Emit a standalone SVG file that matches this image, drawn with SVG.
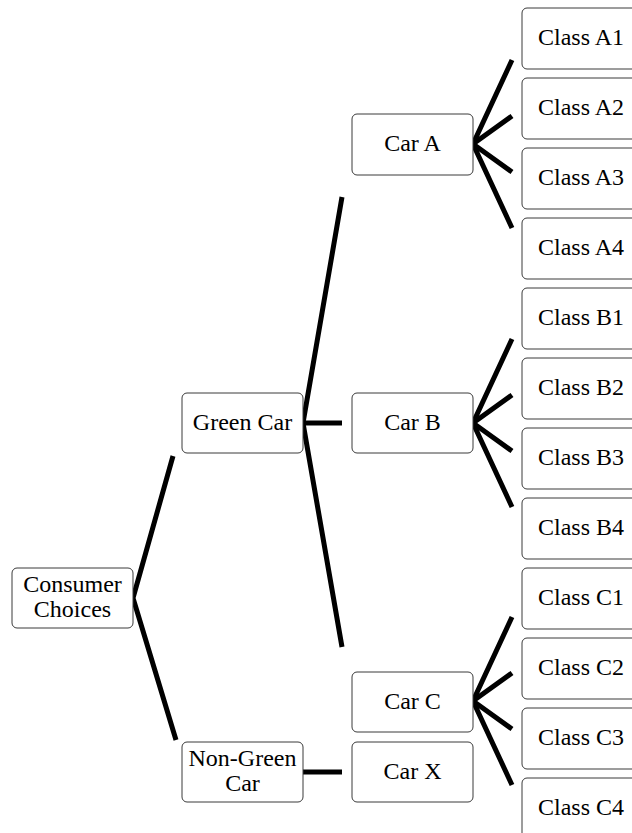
<svg xmlns="http://www.w3.org/2000/svg" width="632" height="833" viewBox="0 0 632 833">
  <style>
    .box { fill: #ffffff; stroke: #3a3a3a; stroke-width: 1; }
    .lbl { font-family: 'Liberation Serif', 'DejaVu Serif', serif; font-size: 24px; fill: #000000; text-anchor: middle; }
    .edge { stroke: #000000; stroke-width: 5; fill: none; stroke-linejoin: miter; }
  </style>
  <rect width="632" height="833" fill="#ffffff"/>

  <!-- connectors -->
  <g id="connectors">
    <polyline class="edge" points="173,456 133,598 176,740"/>
    <polyline class="edge" points="342,197 303,423 342,647"/>
    <line class="edge" x1="303" y1="423" x2="342" y2="423"/>
    <line class="edge" x1="303" y1="772" x2="342" y2="772"/>
    <!-- Car A fan -->
    <polyline class="edge" points="512,60 473,144 512,228"/>
    <polyline class="edge" points="512,116 473,144 512,172"/>
    <!-- Car B fan -->
    <polyline class="edge" points="512,339 473,423 512,507"/>
    <polyline class="edge" points="512,395 473,423 512,451"/>
    <!-- Car C fan -->
    <polyline class="edge" points="512,617 473,701 512,785"/>
    <polyline class="edge" points="512,673 473,701 512,729"/>
  </g>

  <!-- level 0 -->
  <g id="consumer-choices">
    <rect class="box" x="12" y="568" width="121" height="60" rx="5"/>
    <text class="lbl" x="72.5" y="592">Consumer</text>
    <text class="lbl" x="72.5" y="617">Choices</text>
  </g>

  <!-- level 1 -->
  <g id="green-car">
    <rect class="box" x="182" y="393" width="121" height="60" rx="5"/>
    <text class="lbl" x="242.5" y="430">Green Car</text>
  </g>
  <g id="non-green-car">
    <rect class="box" x="182" y="742" width="121" height="60" rx="5"/>
    <text class="lbl" x="242.5" y="766">Non-Green</text>
    <text class="lbl" x="242.5" y="791">Car</text>
  </g>

  <!-- level 2 -->
  <g id="car-a">
    <rect class="box" x="352" y="114" width="121" height="61" rx="5"/>
    <text class="lbl" x="412.5" y="151">Car A</text>
  </g>
  <g id="car-b">
    <rect class="box" x="352" y="393" width="121" height="60" rx="5"/>
    <text class="lbl" x="412.5" y="430">Car B</text>
  </g>
  <g id="car-c">
    <rect class="box" x="352" y="672" width="121" height="60" rx="5"/>
    <text class="lbl" x="412.5" y="709">Car C</text>
  </g>
  <g id="car-x">
    <rect class="box" x="352" y="742" width="121" height="60" rx="5"/>
    <text class="lbl" x="412.5" y="779">Car X</text>
  </g>

  <!-- level 3 -->
  <g id="class-a1"><rect class="box" x="522" y="8" width="121" height="61" rx="5"/><text class="lbl" x="581" y="45">Class A1</text></g>
  <g id="class-a2"><rect class="box" x="522" y="78" width="121" height="61" rx="5"/><text class="lbl" x="581" y="115">Class A2</text></g>
  <g id="class-a3"><rect class="box" x="522" y="148" width="121" height="61" rx="5"/><text class="lbl" x="581" y="185">Class A3</text></g>
  <g id="class-a4"><rect class="box" x="522" y="218" width="121" height="61" rx="5"/><text class="lbl" x="581" y="255">Class A4</text></g>
  <g id="class-b1"><rect class="box" x="522" y="288" width="121" height="61" rx="5"/><text class="lbl" x="581" y="325">Class B1</text></g>
  <g id="class-b2"><rect class="box" x="522" y="358" width="121" height="61" rx="5"/><text class="lbl" x="581" y="395">Class B2</text></g>
  <g id="class-b3"><rect class="box" x="522" y="428" width="121" height="61" rx="5"/><text class="lbl" x="581" y="465">Class B3</text></g>
  <g id="class-b4"><rect class="box" x="522" y="498" width="121" height="61" rx="5"/><text class="lbl" x="581" y="535">Class B4</text></g>
  <g id="class-c1"><rect class="box" x="522" y="568" width="121" height="61" rx="5"/><text class="lbl" x="581" y="605">Class C1</text></g>
  <g id="class-c2"><rect class="box" x="522" y="638" width="121" height="61" rx="5"/><text class="lbl" x="581" y="675">Class C2</text></g>
  <g id="class-c3"><rect class="box" x="522" y="708" width="121" height="61" rx="5"/><text class="lbl" x="581" y="745">Class C3</text></g>
  <g id="class-c4"><rect class="box" x="522" y="778" width="121" height="61" rx="5"/><text class="lbl" x="581" y="815">Class C4</text></g>
</svg>
